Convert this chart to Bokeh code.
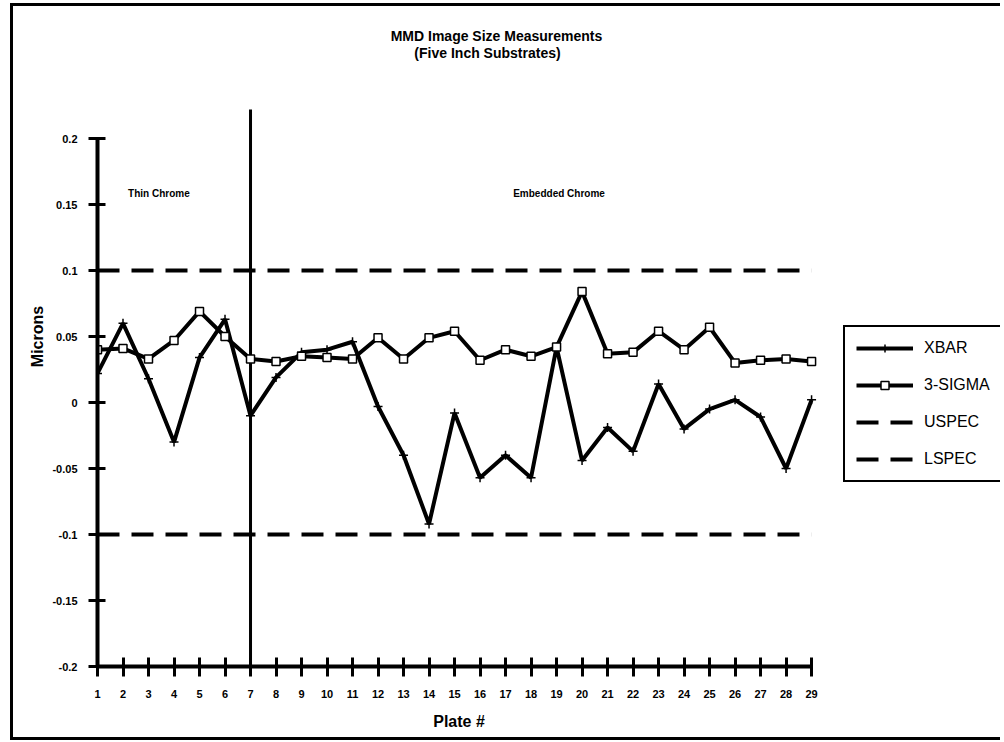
from bokeh.plotting import figure
from bokeh.models import Range1d, FixedTicker, Legend, LegendItem, Label
from bokeh.layouts import row
from bokeh.embed import file_html
from bokeh.resources import INLINE

# ---- data ----
plates = list(range(1, 30))
xbar = [0.022, 0.060, 0.018, -0.030, 0.034, 0.063, -0.010, 0.019, 0.038, 0.040,
        0.046, -0.003, -0.040, -0.092, -0.008, -0.057, -0.040, -0.057, 0.042, -0.044,
        -0.019, -0.037, 0.014, -0.020, -0.005, 0.002, -0.011, -0.050, 0.002]
sigma3 = [0.040, 0.041, 0.033, 0.047, 0.069, 0.050, 0.033, 0.031, 0.035, 0.034,
          0.033, 0.049, 0.033, 0.049, 0.054, 0.032, 0.040, 0.035, 0.042, 0.084,
          0.037, 0.038, 0.054, 0.040, 0.057, 0.030, 0.032, 0.033, 0.031]
uspec = [0.1] * 29
lspec = [-0.1] * 29
y_ticks = [-0.2, -0.15, -0.1, -0.05, 0, 0.05, 0.1, 0.15, 0.2]
y_tick_labels = ["-0.2", "-0.15", "-0.1", "-0.05", "0", "0.05", "0.1", "0.15", "0.2"]
divider_plate = 7
section_labels = ["Thin Chrome", "Embedded Chrome"]
section_x = [2.2, 17.3]
series_names = ["XBAR", "3-SIGMA", "USPEC", "LSPEC"]

FONT = "Liberation Sans"
H = 731
FRAME_H = 660


def style_series(fig):
    us = fig.line(plates, uspec, line_color="black", line_width=4, line_dash="22 12")
    ls = fig.line(plates, lspec, line_color="black", line_width=4, line_dash="22 12")
    xl = fig.line(plates, xbar, line_color="black", line_width=4)
    xm = fig.scatter(plates, xbar, marker="cross", size=9, line_color="black", line_width=1.5)
    sl = fig.line(plates, sigma3, line_color="black", line_width=4)
    sm = fig.scatter(plates, sigma3, marker="square", size=8, fill_color="white",
                     line_color="black", line_width=1.5)
    return us, ls, xl, xm, sl, sm


p = figure(width=807, height=H,
           x_range=Range1d(1, 29.35), y_range=Range1d(-0.2, 0.3),
           output_backend="svg", toolbar_location=None,
           min_border_left=84, min_border_right=0,
           min_border_top=0, min_border_bottom=H - FRAME_H)
p.xgrid.visible = False
p.ygrid.visible = False
p.outline_line_color = None

for ax in (p.xaxis, p.yaxis):
    ax.axis_line_width = 4
    ax.axis_line_color = "black"
    ax.major_tick_line_width = 3
    ax.major_tick_line_color = "black"
    ax.minor_tick_line_color = None
    ax.major_label_text_font = FONT
    ax.major_label_text_font_style = "bold"
    ax.major_label_text_font_size = "11px"
    ax.major_label_text_color = "black"
    ax.axis_label_text_font = FONT
    ax.axis_label_text_font_style = "bold"
    ax.axis_label_text_font_size = "16px"
    ax.axis_label_text_color = "black"

p.xaxis.ticker = FixedTicker(ticks=plates)
p.xaxis.bounds = (1, 29)
p.xaxis.major_tick_out = 10
p.xaxis.major_tick_in = 9
p.xaxis.major_label_standoff = 13
p.xaxis.axis_label = "Plate #"
p.xaxis.axis_label_standoff = 12

p.yaxis.ticker = FixedTicker(ticks=y_ticks)
p.yaxis.major_label_overrides = {t: s for t, s in zip(y_ticks, y_tick_labels)}
p.yaxis.bounds = (-0.2, 0.2)
p.yaxis.major_tick_out = 9
p.yaxis.major_tick_in = 8
p.yaxis.major_label_standoff = 11
p.yaxis.axis_label = "Microns"
p.yaxis.axis_label_standoff = 3

# divider
p.segment(x0=[divider_plate], y0=[-0.2], x1=[divider_plate], y1=[0.222],
          line_color="black", line_width=3)

style_series(p)

for s, xx in zip(section_labels, section_x):
    p.add_layout(Label(x=xx, y=0.158, text=s, text_font=FONT, text_font_style="bold",
                       text_font_size="10px", text_baseline="middle", text_align="left",
                       text_color="black"))

p.add_layout(Label(x=399, y=631, x_units="screen", y_units="screen",
                   text="MMD Image Size Measurements", text_font=FONT,
                   text_font_style="bold", text_font_size="14px", text_color="black",
                   text_align="center", text_baseline="middle"))
p.add_layout(Label(x=390, y=614, x_units="screen", y_units="screen",
                   text="(Five Inch Substrates)", text_font=FONT,
                   text_font_style="bold", text_font_size="14px", text_color="black",
                   text_align="center", text_baseline="middle"))

# ---- legend panel (same series, outside its visible range) ----
q = figure(width=180, height=H, x_range=Range1d(-3, -2), y_range=Range1d(-3, -2),
           output_backend="svg", toolbar_location=None,
           x_axis_location=None, y_axis_location=None, min_border=0)
q.xgrid.visible = False
q.ygrid.visible = False
q.outline_line_color = None
us, ls, xl, xm, sl, sm = style_series(q)

legend = Legend(items=[
    LegendItem(label=series_names[0], renderers=[xl, xm]),
    LegendItem(label=series_names[1], renderers=[sl, sm]),
    LegendItem(label=series_names[2], renderers=[us]),
    LegendItem(label=series_names[3], renderers=[ls]),
], location=(23, FRAME_H - 476), orientation="vertical",
    glyph_width=57, glyph_height=20, spacing=17, padding=11,
    label_standoff=11, label_width=66, label_text_font=FONT,
    label_text_font_size="16px", label_text_color="black",
    border_line_color="black", border_line_width=2, border_line_alpha=1.0,
    background_fill_color="white", background_fill_alpha=1.0, margin=0)
q.add_layout(legend)

layout = row(p, q, margin=(3, 0, 0, 10),
             styles={"border-left": "3px solid black", "border-top": "3px solid black",
                     "border-bottom": "3px solid black"})

open("out.html", "w").write(file_html(layout, INLINE))
